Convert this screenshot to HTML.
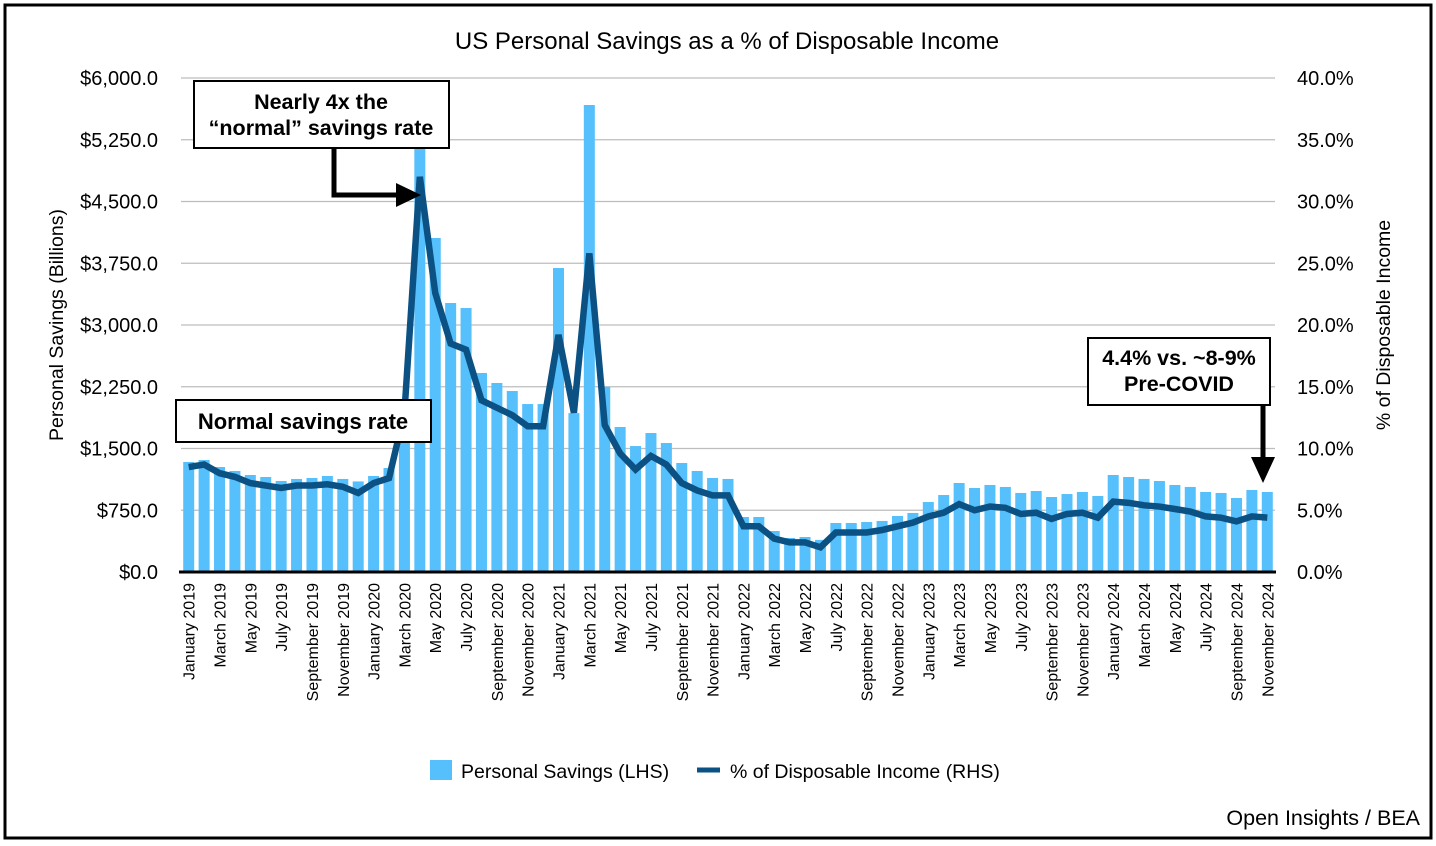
<!DOCTYPE html>
<html><head><meta charset="utf-8"><style>
html,body{margin:0;padding:0;background:#fff;}
svg{display:block;font-family:"Liberation Sans",sans-serif;}
</style></head><body>
<svg id="c" width="1436" height="846" xmlns="http://www.w3.org/2000/svg">
<rect x="5" y="5" width="1426" height="833" fill="#fff" stroke="#000" stroke-width="3"/>
<text x="727" y="49" font-size="24" text-anchor="middle" fill="#000">US Personal Savings as a % of Disposable Income</text>
<g id="grid"></g><g id="bars"></g><g id="line"></g><g id="axes"></g>
<text transform="translate(63,325) rotate(-90)" font-size="19.5" text-anchor="middle">Personal Savings (Billions)</text>
<text transform="translate(1390,325) rotate(-90)" font-size="19.5" text-anchor="middle">% of Disposable Income</text>
<g>
<rect x="194" y="81" width="255" height="67" fill="#fff" stroke="#000" stroke-width="2"/>
<text x="321" y="109" font-size="21.5" font-weight="bold" text-anchor="middle">Nearly 4x the</text>
<text x="321" y="135" font-size="21.5" font-weight="bold" text-anchor="middle">“normal” savings rate</text>
<polyline points="334,148 334,195 398,195" fill="none" stroke="#000" stroke-width="5"/>
<polygon points="396,183 421,195 396,207" fill="#000"/>
</g>
<g>
<rect x="176" y="400" width="255" height="42" fill="#fff" stroke="#000" stroke-width="2"/>
<text x="303" y="429" font-size="22" font-weight="bold" text-anchor="middle">Normal savings rate</text>
</g>
<g>
<rect x="1088" y="338" width="182" height="67" fill="#fff" stroke="#000" stroke-width="2"/>
<text x="1179" y="365" font-size="21.5" font-weight="bold" text-anchor="middle">4.4% vs. ~8-9%</text>
<text x="1179" y="391" font-size="21.5" font-weight="bold" text-anchor="middle">Pre-COVID</text>
<line x1="1263" y1="405" x2="1263" y2="460" stroke="#000" stroke-width="5"/>
<polygon points="1251,457 1275,457 1263,483" fill="#000"/>
</g>
<g>
<rect x="430" y="760" width="22" height="20" fill="#55c0fb"/>
<text x="461" y="778" font-size="19.5">Personal Savings (LHS)</text>
<line x1="697" y1="770" x2="720" y2="770" stroke="#0b5183" stroke-width="5"/>
<text x="730" y="778" font-size="19.5">% of Disposable Income (RHS)</text>
</g>
<text x="1420" y="825" font-size="21.5" text-anchor="end">Open Insights / BEA</text>
</svg>
<script>
const months = ["January","February","March","April","May","June","July","August","September","October","November","December"];
const years = [2019,2020,2021,2022,2023,2024];
const savings = [1336,1360,1275,1227,1178,1154,1105,1130,1142,1166,1130,1100,
1166,1263,2000,5400,4057,3267,3206,2417,2296,2198,2040,2040,
3692,1930,5672,2250,1761,1530,1688,1567,1324,1227,1142,1130,
668,668,498,413,425,390,595,595,607,620,680,717,
850,935,1081,1020,1057,1033,960,984,911,947,972,923,
1178,1154,1130,1105,1057,1033,972,960,899,996,972];
const rate = [8.5,8.7,8.0,7.7,7.2,7.0,6.8,7.0,7.0,7.1,6.9,6.4,
7.2,7.6,12.9,32.0,22.6,18.5,18.0,13.9,13.3,12.7,11.8,11.8,
19.2,12.9,25.8,11.9,9.6,8.3,9.4,8.7,7.2,6.6,6.2,6.2,
3.7,3.7,2.7,2.4,2.4,2.0,3.2,3.2,3.2,3.4,3.7,4.0,
4.5,4.8,5.5,5.0,5.3,5.2,4.7,4.8,4.3,4.7,4.8,4.4,
5.7,5.6,5.4,5.3,5.1,4.9,4.5,4.4,4.1,4.5,4.4];
const leftTicks = ["$0.0","$750.0","$1,500.0","$2,250.0","$3,000.0","$3,750.0","$4,500.0","$5,250.0","$6,000.0"];
const rightTicks = ["0.0%","5.0%","10.0%","15.0%","20.0%","25.0%","30.0%","35.0%","40.0%"];

const NS="http://www.w3.org/2000/svg";
const X0=181, X1=1275, Y0=572, Y1=78;
const n=savings.length, band=(X1-X0)/n;
const xC=i=>X0+band*(i+0.5);
const yL=v=>Y0-(v/6000)*(Y0-Y1);
const yR=v=>Y0-(v/40)*(Y0-Y1);
function mk(tag,attrs,parent){const e=document.createElementNS(NS,tag);for(const k in attrs)e.setAttribute(k,attrs[k]);parent.appendChild(e);return e;}
const grid=document.getElementById('grid'),bars=document.getElementById('bars'),lineG=document.getElementById('line'),axes=document.getElementById('axes');
leftTicks.forEach((t,i)=>{
  const y=Y0-i*(Y0-Y1)/8;
  if(i>0){const g=mk('line',{x1:X0,x2:X1,y1:y,y2:y,stroke:'#bdbdbd','stroke-width':1.2},grid);
  
  }
  const a=mk('text',{x:158,y:y+7,'font-size':20,'text-anchor':'end'},axes);a.textContent=t;
  
  
  const b=mk('text',{x:1297,y:y+7,'font-size':20},axes);b.textContent=rightTicks[i];
  
  
});
savings.forEach((v,i)=>{
  const r=mk('rect',{x:xC(i)-5.5,y:yL(v),width:11,height:Y0-yL(v),fill:'#55c0fb'},bars);
  
  
});
const pl=mk('polyline',{points:rate.map((v,i)=>xC(i)+','+yR(v)).join(' '),fill:'none',stroke:'#0b5183','stroke-width':6.5,'stroke-linejoin':'miter'},lineG);


const ax=mk('line',{x1:X0-2,x2:X1+1,y1:Y0,y2:Y0,stroke:'#000','stroke-width':3},axes);


for(let i=0;i<n;i+=2){
  const label=months[i%12]+' '+years[Math.floor(i/12)];
  const x=xC(i)+6;
  const t=mk('text',{transform:`translate(${x},583) rotate(-90)`,'font-size':16,'text-anchor':'end'},axes);
  t.textContent=label;
  
  
}
</script>
</body></html>
